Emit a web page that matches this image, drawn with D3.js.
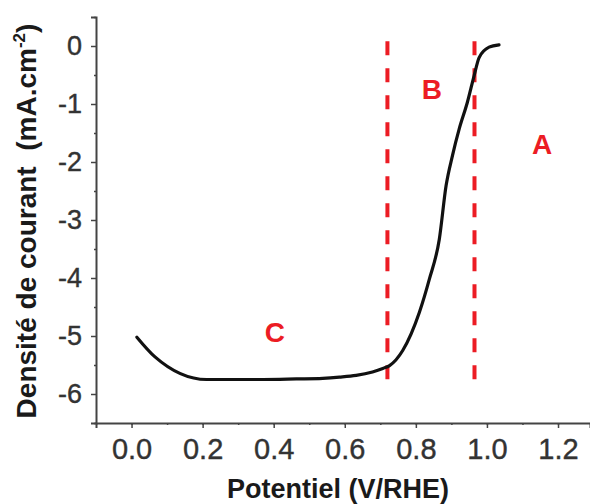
<!DOCTYPE html>
<html><head><meta charset="utf-8">
<script src="https://cdn.jsdelivr.net/npm/d3@7"></script>
<style>
html,body{margin:0;padding:0;background:#fff;}
svg{display:block;font-family:"Liberation Sans",Arial,Helvetica,sans-serif;}
</style></head>
<body>
<script>
// data
const potential = [0.015,0.066,0.211,0.305,0.37,0.464,0.538,0.585,0.632,0.678,0.707,0.726,0.763,0.81,0.838,0.866,0.885,0.903,0.922,0.945,0.964,0.978,1.006,1.034];
const current   = [-5.02,-5.36,-5.75,-5.75,-5.75,-5.74,-5.73,-5.71,-5.68,-5.62,-5.56,-5.51,-5.25,-4.59,-4.02,-3.33,-2.41,-1.89,-1.43,-0.97,-0.51,-0.2,-0.02,0.02];
const xTicks = [0.0,0.2,0.4,0.6,0.8,1.0,1.2];
const yTicks = [0,-1,-2,-3,-4,-5,-6];
const boundaries = [0.72,0.965];
const boundaryTop = 0.08, boundaryBottom = -5.86;
const regionLabels = ["A","B","C"];
const regionX = [1.155,0.845,0.403];
const regionY = [-1.86,-0.91,-5.10];

const W=590,H=504;
const svg=d3.select("body").append("svg").attr("width",W).attr("height",H);
const x=d3.scaleLinear().domain([-0.1,1.29]).range([96,590]);
const y=d3.scaleLinear().domain([-6.5,0.5]).range([423,17]);
const axisCol="#444", textCol="#333";

// minor ticks
const gx=svg.append("g").attr("transform",`translate(0,${y(-6.5)})`);
gx.call(d3.axisBottom(x).tickValues(d3.range(0,13).map(i=>i/10)).tickSize(2).tickFormat(""));
gx.call(g=>g.selectAll(".tick line").attr("stroke",axisCol).attr("stroke-width",1.5));
const gx2=svg.append("g").attr("transform",`translate(0,${y(-6.5)})`);
gx2.call(d3.axisBottom(x).tickValues(xTicks).tickSize(5).tickPadding(10).tickFormat(d3.format(".1f")));
gx2.select(".domain").attr("stroke",axisCol).attr("stroke-width",2);
gx2.selectAll(".tick line").attr("stroke",axisCol).attr("stroke-width",1.5);
gx2.selectAll(".tick text").attr("font-size",29).attr("fill",textCol).attr("stroke",textCol).attr("stroke-width",0.4)
  .attr("font-family","Liberation Sans,Arial,sans-serif");

const gy=svg.append("g").attr("transform",`translate(${x(-0.1)},0)`);
gy.call(d3.axisLeft(y).tickValues(d3.range(-6.5,0.51,0.5).filter(v=>Math.abs(v%1)>0.1)).tickSize(2).tickFormat(""));
gy.call(g=>g.selectAll(".tick line").attr("stroke",axisCol).attr("stroke-width",1.5));
gy.select(".domain").remove();
const gy2=svg.append("g").attr("transform",`translate(${x(-0.1)},0)`);
gy2.call(d3.axisLeft(y).tickValues(yTicks).tickSize(5).tickPadding(9).tickFormat(d=>d===0?"0":"-"+Math.abs(d)));
gy2.select(".domain").attr("stroke",axisCol).attr("stroke-width",2);
gy2.selectAll(".tick line").attr("stroke",axisCol).attr("stroke-width",1.5);
gy2.selectAll(".tick text").attr("font-size",27).attr("fill",textCol).attr("stroke",textCol).attr("stroke-width",0.4)
  .attr("font-family","Liberation Sans,Arial,sans-serif");

// boundaries
svg.selectAll("line.bd").data(boundaries).enter().append("line").attr("class","bd")
  .attr("x1",d=>x(d)).attr("x2",d=>x(d)).attr("y1",y(boundaryTop)).attr("y2",y(boundaryBottom))
  .attr("stroke","#ec1c24").attr("stroke-width",4).attr("stroke-dasharray","14,13");

// curve
const pts=potential.map((p,i)=>[p,current[i]]);
svg.append("path").datum(pts).attr("fill","none").attr("stroke","#111").attr("stroke-width",3.2)
  .attr("stroke-linejoin","round").attr("stroke-linecap","round")
  .attr("d",d3.line().x(d=>x(d[0])).y(d=>y(d[1])).curve(d3.curveMonotoneX));

// region labels
svg.selectAll("text.rl").data(regionLabels).enter().append("text").attr("class","rl")
  .attr("x",(d,i)=>x(regionX[i])).attr("y",(d,i)=>y(regionY[i]))
  .attr("text-anchor","middle").attr("font-size",28).attr("font-weight","bold").attr("fill","#ec1c24").text(d=>d);

// axis titles
svg.append("text").attr("x",338).attr("y",498).attr("text-anchor","middle")
  .attr("font-size",27).attr("font-weight","bold").attr("fill","#1a1a1a").text("Potentiel (V/RHE)");
const yt=svg.append("text").attr("transform","translate(36,221) rotate(-90)").attr("text-anchor","middle")
  .attr("font-size",28).attr("font-weight","bold").attr("fill","#1a1a1a").attr("xml:space","preserve");
yt.append("tspan").text("Densité de courant\u00a0 (mA.cm");
yt.append("tspan").attr("font-size",17).attr("dy",-11).text("-2");
yt.append("tspan").attr("dy",11).text(")");
</script>
</body></html>
